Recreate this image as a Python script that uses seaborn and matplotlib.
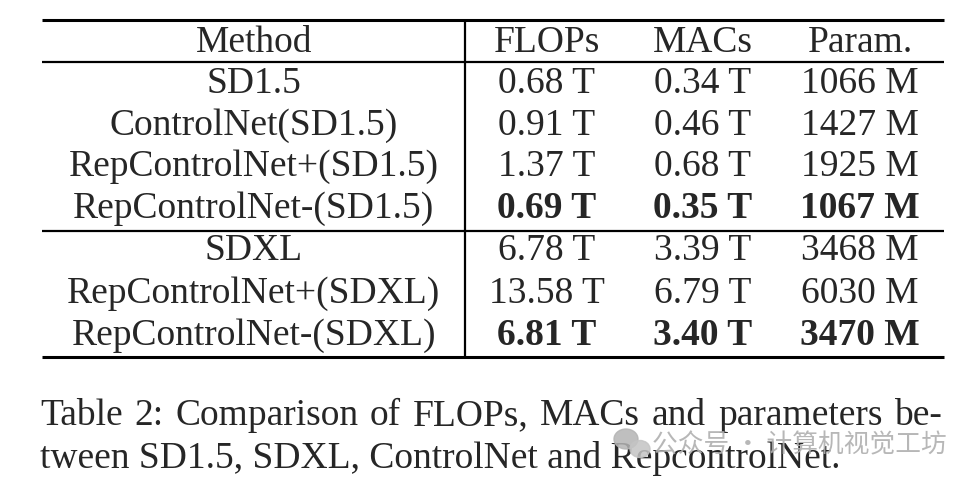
import matplotlib
matplotlib.use("Agg")
import matplotlib.pyplot as plt
import seaborn as sns
from matplotlib.patches import Ellipse

# Table content
header = ["Method", "FLOPs", "MACs", "Param."]
methods = ["SD1.5", "ControlNet(SD1.5)", "RepControlNet+(SD1.5)", "RepControlNet-(SD1.5)",
           "SDXL", "RepControlNet+(SDXL)", "RepControlNet-(SDXL)"]
flops = ["0.68 T", "0.91 T", "1.37 T", "0.69 T", "6.78 T", "13.58 T", "6.81 T"]
macs = ["0.34 T", "0.46 T", "0.68 T", "0.35 T", "3.39 T", "6.79 T", "3.40 T"]
params = ["1066 M", "1427 M", "1925 M", "1067 M", "3468 M", "6030 M", "3470 M"]
bold_rows = [False, False, False, True, False, False, True]
caption = ["Table 2: Comparison of FLOPs, MACs and parameters be-",
           "tween SD1.5, SDXL, ControlNet and RepcontrolNet."]
watermark = "公众号 · 计算机视觉工坊"

sns.set_theme(style="white")
plt.rcParams['font.family'] = ['Liberation Serif', 'DejaVu Serif']

fig = plt.figure(figsize=(9.75, 4.85), dpi=100)
ax = fig.add_axes([0, 0, 1, 1])
ax.set_xlim(0, 975)
ax.set_ylim(485, 0)
ax.axis("off")

# Layout in pixel units
left, right = 42, 944
vx = 465
col_x = [254, 547, 703, 860]
header_y = 43
row_y = [84, 126, 167, 209, 251, 294, 336]
fs = 27

# Rules
ax.hlines([21, 358], left, right, color="black", lw=2.2)
ax.hlines([63, 232], left, right, color="black", lw=1.6)
ax.vlines(vx, 21, 358, color="black", lw=1.6)

for x, h in zip(col_x, header):
    ax.text(x, header_y, h, ha="center", va="center", fontsize=fs)

for i, y in enumerate(row_y):
    ax.text(col_x[0], y, methods[i], ha="center", va="center", fontsize=fs)
    w = "bold" if bold_rows[i] else "normal"
    for x, v in zip(col_x[1:], [flops[i], macs[i], params[i]]):
        ax.text(x, y, v, ha="center", va="center", fontsize=fs, fontweight=w)

# Caption, first line justified word by word
fig.canvas.draw()
renderer = fig.canvas.get_renderer()
words = caption[0].split(" ")
arts = [ax.text(0, 416, wd, ha="left", va="center", fontsize=fs) for wd in words]
inv = ax.transData.inverted()
widths = []
for a in arts:
    bb = a.get_window_extent(renderer)
    x0 = inv.transform((bb.x0, bb.y0))[0]
    x1 = inv.transform((bb.x1, bb.y0))[0]
    widths.append(x1 - x0)
gap = (right - left - sum(widths)) / (len(words) - 1)
xpos = 40
for a, wdt in zip(arts, widths):
    a.set_x(xpos)
    xpos += wdt + gap
ax.text(40, 459, caption[1], ha="left", va="center", fontsize=fs)

# Watermark
ax.add_patch(Ellipse((626, 440), 24, 20, color="#b4b4b4", alpha=0.85, zorder=5))
ax.add_patch(Ellipse((640, 450), 20, 17, color="#c4c4c4", alpha=0.85, zorder=5))
ax.text(652, 445, watermark, ha="left", va="center", fontsize=18.5, color="#b0b0b0",
        family=["Noto Sans CJK SC", "DejaVu Sans"], alpha=0.9, zorder=6)

fig.savefig("out.png", dpi=100, facecolor="white")
